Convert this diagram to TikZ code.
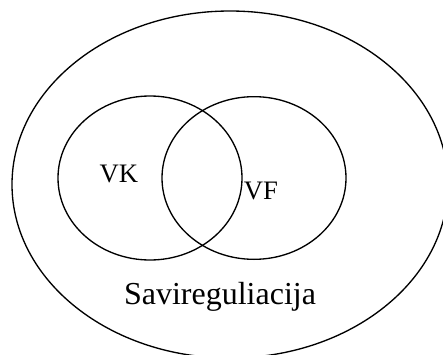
\documentclass[tikz,border=0pt]{standalone}
\usepackage{fontspec}
\setmainfont{Liberation Serif}
\usetikzlibrary{shapes.geometric, positioning}

\begin{document}
\begin{tikzpicture}[x=0.75pt, y=-0.75pt,
                set/.style={draw, ellipse, line width=1pt, inner sep=0pt},
                lbl/.style={anchor=base, inner sep=0pt, font=\fontsize{20}{24}\selectfont}
            ]
                \useasboundingbox (0,0) rectangle (443,354);
                \clip (0,0) rectangle (443,354);

                % Sets
                \node (outer) [set, minimum width=327pt, minimum height=260.25pt] at (230,184.5) {};
                \node (vk) [set, minimum width=138pt, minimum height=123pt] at (150,178) {};
                \node (vf) [set, minimum width=138pt, minimum height=122pt] at (254,178) {};

                % Labels
                \node (vklabel) [lbl] at (119,182) {VK};
                \node (vflabel) [lbl] at (261,199) {VF};
                \node (outerlabel) [lbl, font=\fontsize{24}{28}\selectfont] at (220,304) {Savireguliacija};
            \end{tikzpicture}
\end{document}
